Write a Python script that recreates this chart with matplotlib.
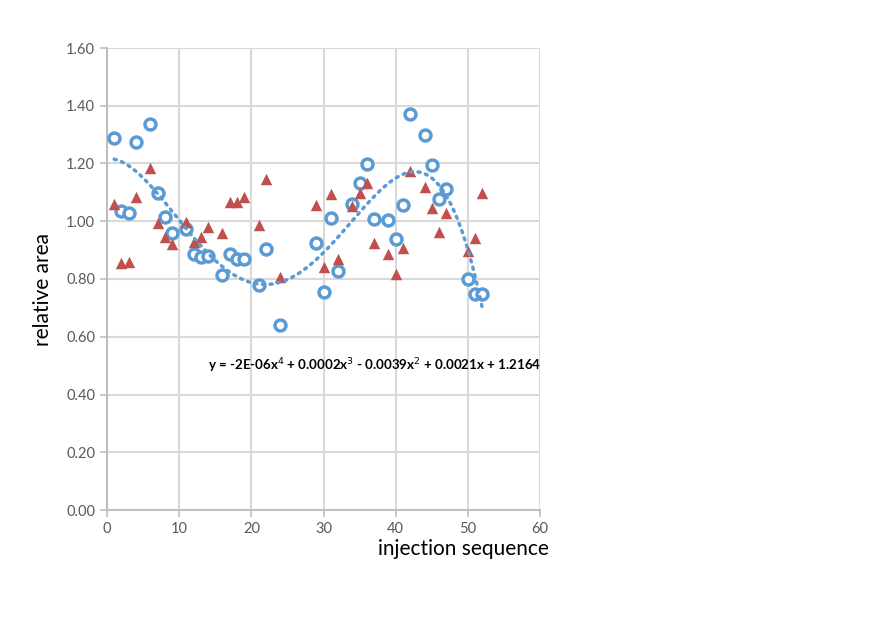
import matplotlib.pyplot as plt
import numpy as np

# injection number for each measurement
injections = [1, 2, 3, 4, 6, 7, 8, 9, 11, 12, 13, 14, 16, 17, 18, 19, 21, 22, 24,
              29, 30, 31, 32, 34, 35, 36, 37, 39, 40, 41, 42, 44, 45, 46, 47, 50, 51, 52]

# relative area, first series (open circles)
area_circles = [1.290, 1.035, 1.030, 1.275, 1.337, 1.098, 1.015, 0.960, 0.973, 0.887,
                0.876, 0.880, 0.814, 0.887, 0.870, 0.870, 0.780, 0.904, 0.641,
                0.925, 0.755, 1.011, 0.828, 1.060, 1.132, 1.198, 1.008, 1.004, 0.938,
                1.056, 1.370, 1.299, 1.195, 1.077, 1.112, 0.800, 0.748, 0.748]

# relative area, second series (triangles)
area_triangles = [1.060, 0.855, 0.859, 1.084, 1.184, 0.994, 0.945, 0.921, 0.997, 0.928,
                  0.945, 0.980, 0.959, 1.067, 1.067, 1.084, 0.987, 1.146, 0.807,
                  1.056, 0.842, 1.094, 0.869, 1.053, 1.098, 1.132, 0.925, 0.887, 0.817,
                  0.907, 1.174, 1.119, 1.046, 0.963, 1.029, 0.897, 0.942, 1.098]

# 4th order trendline (x^4 .. x^0), unrounded values behind the printed equation
trend_coef = [-2.049e-06, 1.771e-04, -3.9e-03, 2.1e-03, 1.2164]
equation = "y = -2E-06x$^4$ + 0.0002x$^3$ - 0.0039x$^2$ + 0.0021x + 1.2164"

blue = '#5b9bd5'
red = '#c0504d'
grey_text = '#595959'

plt.rcParams['font.family'] = ['Lato', 'DejaVu Sans']

fig = plt.figure(figsize=(8.87, 6.31), dpi=100)
ax = fig.add_axes([107 / 887, 1 - 510 / 631, 433 / 887, 462 / 631])

xs = np.linspace(min(injections), max(injections), 200)
ax.plot(xs, np.polyval(trend_coef, xs), color=blue, linestyle=(0, (0.6, 1.6)),
        linewidth=2.5, dash_capstyle='round', zorder=5)

ax.scatter(injections, area_circles, s=62, facecolors='white', edgecolors=blue,
           linewidths=2.5, zorder=3)
ax.scatter(injections, area_triangles, s=68, marker='^', color=red, zorder=4,
           linewidths=0)

ax.set_xlim(0, 60)
ax.set_ylim(0, 1.6)
ax.set_xticks(np.arange(0, 61, 10))
ax.set_yticks(np.arange(0, 1.61, 0.2))
ax.set_yticklabels(['%.2f' % v for v in np.arange(0, 1.61, 0.2)])
ax.grid(True, color='#d9d9d9', linewidth=1.5)
ax.set_axisbelow(True)
for side in ['top', 'right']:
    ax.spines[side].set_visible(False)
for side in ['left', 'bottom']:
    ax.spines[side].set_color('#bfbfbf')
    ax.spines[side].set_linewidth(1.5)
ax.tick_params(colors='#bfbfbf', labelcolor=grey_text, labelsize=10.5,
               length=5, width=1.2)

ax.set_xlabel('injection sequence', fontsize=15)
ax.xaxis.set_label_coords(442 / 433, -0.063)
ax.xaxis.label.set_ha('right')
ax.set_ylabel('relative area', fontsize=15)
ax.yaxis.set_label_coords(-54 / 433, (510 - 289) / 462)

ax.text(37.1, 0.50, equation, fontsize=9.6, fontweight='bold', ha='center', va='center')

fig.savefig('out.png', dpi=100, facecolor='white')
